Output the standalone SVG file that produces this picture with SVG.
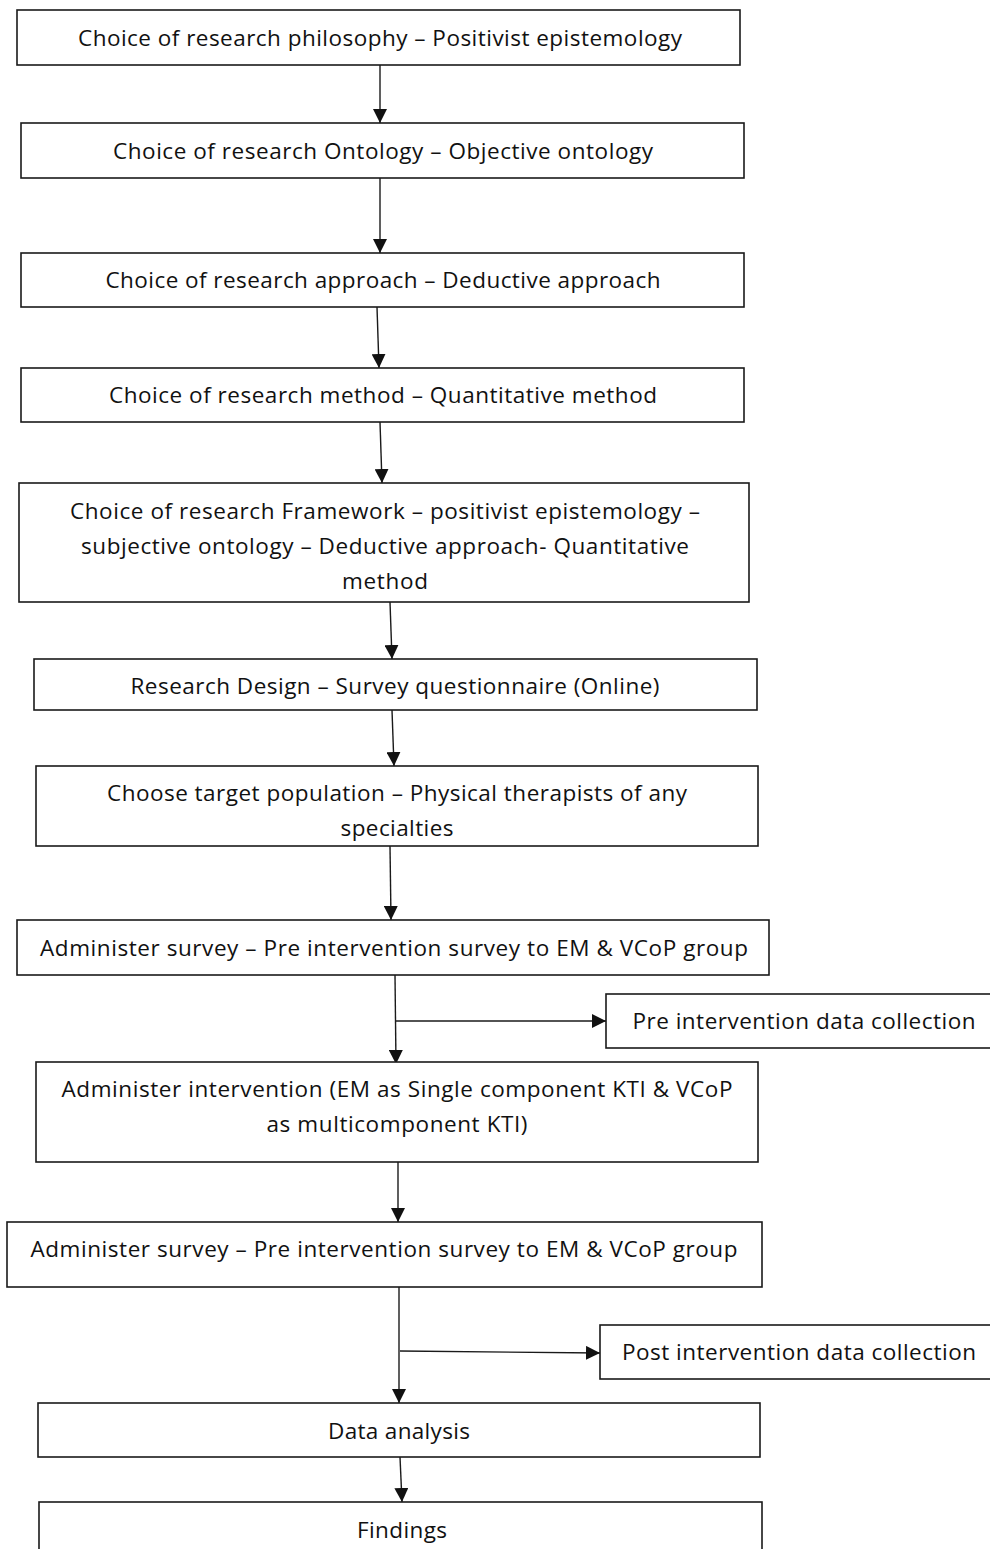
<svg xmlns="http://www.w3.org/2000/svg" width="990" height="1549" viewBox="0 0 990 1549">
  <style>
    .box { fill: #ffffff; stroke: #1a1a1a; stroke-width: 1.6; }
    .lbl { font-family: "Open Sans", "Liberation Sans", sans-serif; font-size: 22.5px; fill: #111111; text-anchor: middle; }
    .edge { stroke: #1a1a1a; stroke-width: 1.4; fill: none; marker-end: url(#arrow); }
  </style>
  <defs>
    <marker id="arrow" markerUnits="userSpaceOnUse" markerWidth="14" markerHeight="14" viewBox="0 0 14 14" refX="14" refY="7" orient="auto">
      <path d="M0,0 L14,7 L0,14 Z" fill="#111111"/>
    </marker>
  </defs>
  <rect width="990" height="1549" fill="#ffffff"/>

  <g id="connectors">
    <line class="edge" x1="380" y1="65" x2="380" y2="123"/>
    <line class="edge" x1="380" y1="178" x2="380" y2="253"/>
    <line class="edge" x1="377" y1="307" x2="379" y2="368"/>
    <line class="edge" x1="380" y1="422" x2="382" y2="483"/>
    <line class="edge" x1="390" y1="602" x2="392" y2="659"/>
    <line class="edge" x1="392" y1="710" x2="394" y2="766"/>
    <line class="edge" x1="390" y1="846" x2="391" y2="920"/>
    <line class="edge" x1="395" y1="975" x2="396" y2="1064"/>
    <line class="edge" x1="396" y1="1021" x2="606" y2="1021"/>
    <line class="edge" x1="398" y1="1162" x2="398" y2="1222"/>
    <line class="edge" x1="399" y1="1287" x2="399" y2="1403"/>
    <line class="edge" x1="400" y1="1351" x2="600" y2="1353"/>
    <line class="edge" x1="400" y1="1457" x2="402" y2="1502"/>
  </g>

  <g id="n1">
    <rect class="box" x="17" y="10" width="723" height="55"/>
    <text class="lbl" x="380" y="46" textLength="604">Choice of research philosophy – Positivist epistemology</text>
  </g>
  <g id="n2">
    <rect class="box" x="21" y="123" width="723" height="55"/>
    <text class="lbl" x="383" y="159" textLength="540">Choice of research Ontology – Objective ontology</text>
  </g>
  <g id="n3">
    <rect class="box" x="21" y="253" width="723" height="54"/>
    <text class="lbl" x="383" y="288" textLength="555">Choice of research approach – Deductive approach</text>
  </g>
  <g id="n4">
    <rect class="box" x="21" y="368" width="723" height="54"/>
    <text class="lbl" x="383" y="403" textLength="548">Choice of research method – Quantitative method</text>
  </g>
  <g id="n5">
    <rect class="box" x="19" y="483" width="730" height="119"/>
    <text class="lbl" x="385" y="519" textLength="630">Choice of research Framework – positivist epistemology –</text>
    <text class="lbl" x="385" y="554" textLength="608">subjective ontology – Deductive approach- Quantitative</text>
    <text class="lbl" x="385" y="589" textLength="86">method</text>
  </g>
  <g id="n6">
    <rect class="box" x="34" y="659" width="723" height="51"/>
    <text class="lbl" x="395" y="694" textLength="529">Research Design – Survey questionnaire (Online)</text>
  </g>
  <g id="n7">
    <text class="lbl" x="397" y="801" textLength="580">Choose target population – Physical therapists of any</text>
    <text class="lbl" x="397" y="836" textLength="113">specialties</text>
    <rect class="box" x="36" y="766" width="722" height="80" style="fill:none"/>
  </g>
  <g id="n8">
    <rect class="box" x="17" y="920" width="752" height="55"/>
    <text class="lbl" x="394" y="956" textLength="708">Administer survey – Pre intervention survey to EM &amp; VCoP group</text>
  </g>
  <g id="n9">
    <rect class="box" x="606" y="994" width="390" height="54"/>
    <text class="lbl" x="804" y="1029" textLength="343">Pre intervention data collection</text>
  </g>
  <g id="n10">
    <rect class="box" x="36" y="1062" width="722" height="100"/>
    <text class="lbl" x="397" y="1097" textLength="671">Administer intervention (EM as Single component KTI &amp; VCoP</text>
    <text class="lbl" x="397" y="1132" textLength="261">as multicomponent KTI)</text>
  </g>
  <g id="n11">
    <rect class="box" x="7" y="1222" width="755" height="65"/>
    <text class="lbl" x="384" y="1257" textLength="707">Administer survey – Pre intervention survey to EM &amp; VCoP group</text>
  </g>
  <g id="n12">
    <rect class="box" x="600" y="1325" width="396" height="54"/>
    <text class="lbl" x="799" y="1360" textLength="354">Post intervention data collection</text>
  </g>
  <g id="n13">
    <rect class="box" x="38" y="1403" width="722" height="54"/>
    <text class="lbl" x="399" y="1439" textLength="142">Data analysis</text>
  </g>
  <g id="n14">
    <rect class="box" x="39" y="1502" width="723" height="60"/>
    <text class="lbl" x="402" y="1538" textLength="90">Findings</text>
  </g>
</svg>
